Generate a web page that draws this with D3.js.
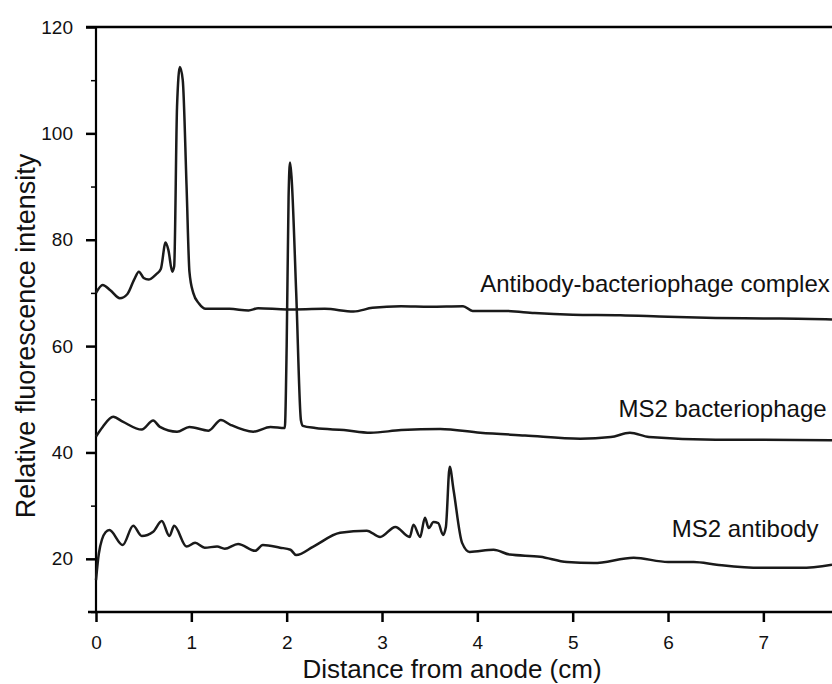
<!DOCTYPE html>
<html lang="en">
<head>
<meta charset="UTF-8">
<title>Fluorescence vs distance from anode</title>
<script src="https://d3js.org/d3.v7.min.js"></script>
<style>
  body { margin: 0; background: #fff; }
  svg text { font-family: "Liberation Sans", Arial, sans-serif; fill: #111; }
</style>
</head>
<body>
<script>
// traces: [distance (cm), intensity]
const complexTrace = [
  [0, 70], [0.07, 71.5], [0.15, 70.5], [0.25, 69], [0.33, 69.8], [0.4, 72.5], [0.45, 74],
  [0.5, 72.8], [0.55, 72.5], [0.63, 73.5], [0.68, 74.5], [0.73, 79.5], [0.76, 78], [0.8, 74],
  [0.82, 75], [0.85, 105], [0.88, 112.5], [0.91, 110], [0.95, 90], [0.98, 74], [1.02, 70],
  [1.08, 68], [1.15, 67], [1.4, 67], [1.6, 66.7], [1.7, 67.1], [2.0, 66.9], [2.4, 67],
  [2.7, 66.5], [2.9, 67.2], [3.2, 67.5], [3.5, 67.4], [3.85, 67.5], [3.95, 66.6], [4.3, 66.6],
  [4.6, 66.2], [5.0, 65.9], [5.5, 65.8], [6.0, 65.5], [6.5, 65.3], [7.0, 65.2], [7.5, 65.1], [7.72, 65]
];
const phageTrace = [
  [0, 43], [0.07, 44.8], [0.18, 46.7], [0.28, 45.8], [0.48, 44.3], [0.6, 46], [0.67, 44.8],
  [0.85, 43.9], [0.98, 44.8], [1.18, 44.1], [1.31, 46.1], [1.41, 45.2], [1.65, 43.9], [1.83, 44.8],
  [1.98, 44.6], [2.0, 60], [2.02, 88], [2.035, 94.5], [2.05, 92], [2.1, 70], [2.15, 46], [2.17, 45],
  [2.3, 44.6], [2.6, 44.2], [2.88, 43.7], [3.2, 44.2], [3.61, 44.4], [4.03, 43.7], [4.5, 43.2],
  [5.08, 42.6], [5.4, 42.9], [5.6, 43.7], [5.8, 42.9], [6.5, 42.4], [7.0, 42.4], [7.72, 42.3]
];
const antibodyTrace = [
  [0, 16], [0.03, 21], [0.1, 25], [0.14, 25.4], [0.28, 22.6], [0.39, 26.2], [0.48, 24.3],
  [0.6, 25.1], [0.69, 27.1], [0.77, 24.3], [0.82, 26.2], [0.95, 22.3], [1.04, 23], [1.14, 22.1],
  [1.27, 22.3], [1.35, 21.9], [1.49, 22.8], [1.67, 21.5], [1.75, 22.6], [1.93, 22.1], [2.04, 21.7],
  [2.1, 20.7], [2.28, 22.3], [2.56, 24.9], [2.84, 25.3], [2.98, 24.1], [3.14, 26], [3.29, 24.1],
  [3.33, 26.4], [3.4, 24.1], [3.45, 27.7], [3.49, 25.8], [3.54, 26.9], [3.59, 26.7], [3.64, 24.5],
  [3.67, 26], [3.71, 37.3], [3.75, 33], [3.84, 23], [3.92, 21.3], [4.17, 21.7], [4.34, 20.8],
  [4.66, 20.4], [4.94, 19.4], [5.22, 19.2], [5.64, 20.2], [6.0, 19.4], [6.27, 19.4], [6.51, 18.9],
  [6.97, 18.3], [7.39, 18.3], [7.72, 18.9]
];

const seriesNames = ["Antibody-bacteriophage complex", "MS2 bacteriophage", "MS2 antibody"];
// label anchor points in data units
const labelPos = [[4.03, 70.2], [5.48, 46.7], [6.04, 24.1]];

const xTicks = [0, 1, 2, 3, 4, 5, 6, 7];
const yTicks = [20, 40, 60, 80, 100, 120];
const yMinor = [10, 30, 50, 70, 90, 110];

const width = 832, height = 684;

const svg = d3.select("body").append("svg")
  .attr("width", width)
  .attr("height", height);

const x = d3.scaleLinear().domain([0, 7.72]).range([96, 832]);
const y = d3.scaleLinear().domain([10, 120]).range([612, 27]);

// frame lines (right side is cropped off in the figure)
svg.append("line")
  .attr("x1", 86).attr("x2", width).attr("y1", y(120)).attr("y2", y(120))
  .attr("stroke", "#000").attr("stroke-width", 2.5);
svg.append("line")
  .attr("x1", 88).attr("x2", width).attr("y1", y(10)).attr("y2", y(10))
  .attr("stroke", "#000").attr("stroke-width", 2.5);
svg.append("line")
  .attr("x1", x(0)).attr("x2", x(0)).attr("y1", y(120)).attr("y2", y(10) + 1)
  .attr("stroke", "#000").attr("stroke-width", 2.2);

// axes
const xAxis = svg.append("g")
  .attr("transform", `translate(0,${y(10)})`)
  .call(d3.axisBottom(x).tickValues(xTicks).tickFormat(d3.format("d")).tickSize(10).tickPadding(14));

const yAxis = svg.append("g")
  .attr("transform", `translate(${x(0)},0)`)
  .call(d3.axisLeft(y).tickValues(yTicks).tickSize(10).tickPadding(13));

svg.append("g")
  .attr("transform", `translate(${x(0)},0)`)
  .call(d3.axisLeft(y).tickValues(yMinor).tickSize(5).tickFormat(""))
  .call(g => g.select(".domain").remove())
  .selectAll("line").attr("stroke-width", 1.5);

[xAxis, yAxis].forEach(g => {
  g.select(".domain").remove();
  g.selectAll(".tick line").attr("stroke", "#000").attr("stroke-width", 2.5);
  g.selectAll(".tick text").attr("font-size", 19).attr("fill", "#111");
});

// traces
const line = d3.line()
  .x(d => x(d[0]))
  .y(d => y(d[1]))
  .curve(d3.curveMonotoneX);

[complexTrace, phageTrace, antibodyTrace].forEach(tr => {
  svg.append("path")
    .datum(tr)
    .attr("fill", "none")
    .attr("stroke", "#1a1a1a")
    .attr("stroke-width", 2.5)
    .attr("stroke-linejoin", "round")
    .attr("d", line);
});

// series labels
svg.selectAll(".lab")
  .data(seriesNames)
  .join("text")
  .attr("class", "lab")
  .attr("x", (d, i) => x(labelPos[i][0]))
  .attr("y", (d, i) => y(labelPos[i][1]))
  .attr("font-size", 24)
  .text(d => d);

// axis titles
svg.append("text")
  .attr("x", 452)
  .attr("y", 678)
  .attr("text-anchor", "middle")
  .attr("font-size", 26)
  .text("Distance from anode (cm)");

svg.append("text")
  .attr("transform", "translate(35,336) rotate(-90)")
  .attr("text-anchor", "middle")
  .attr("font-size", 27)
  .text("Relative fluorescence intensity");
</script>
</body>
</html>
